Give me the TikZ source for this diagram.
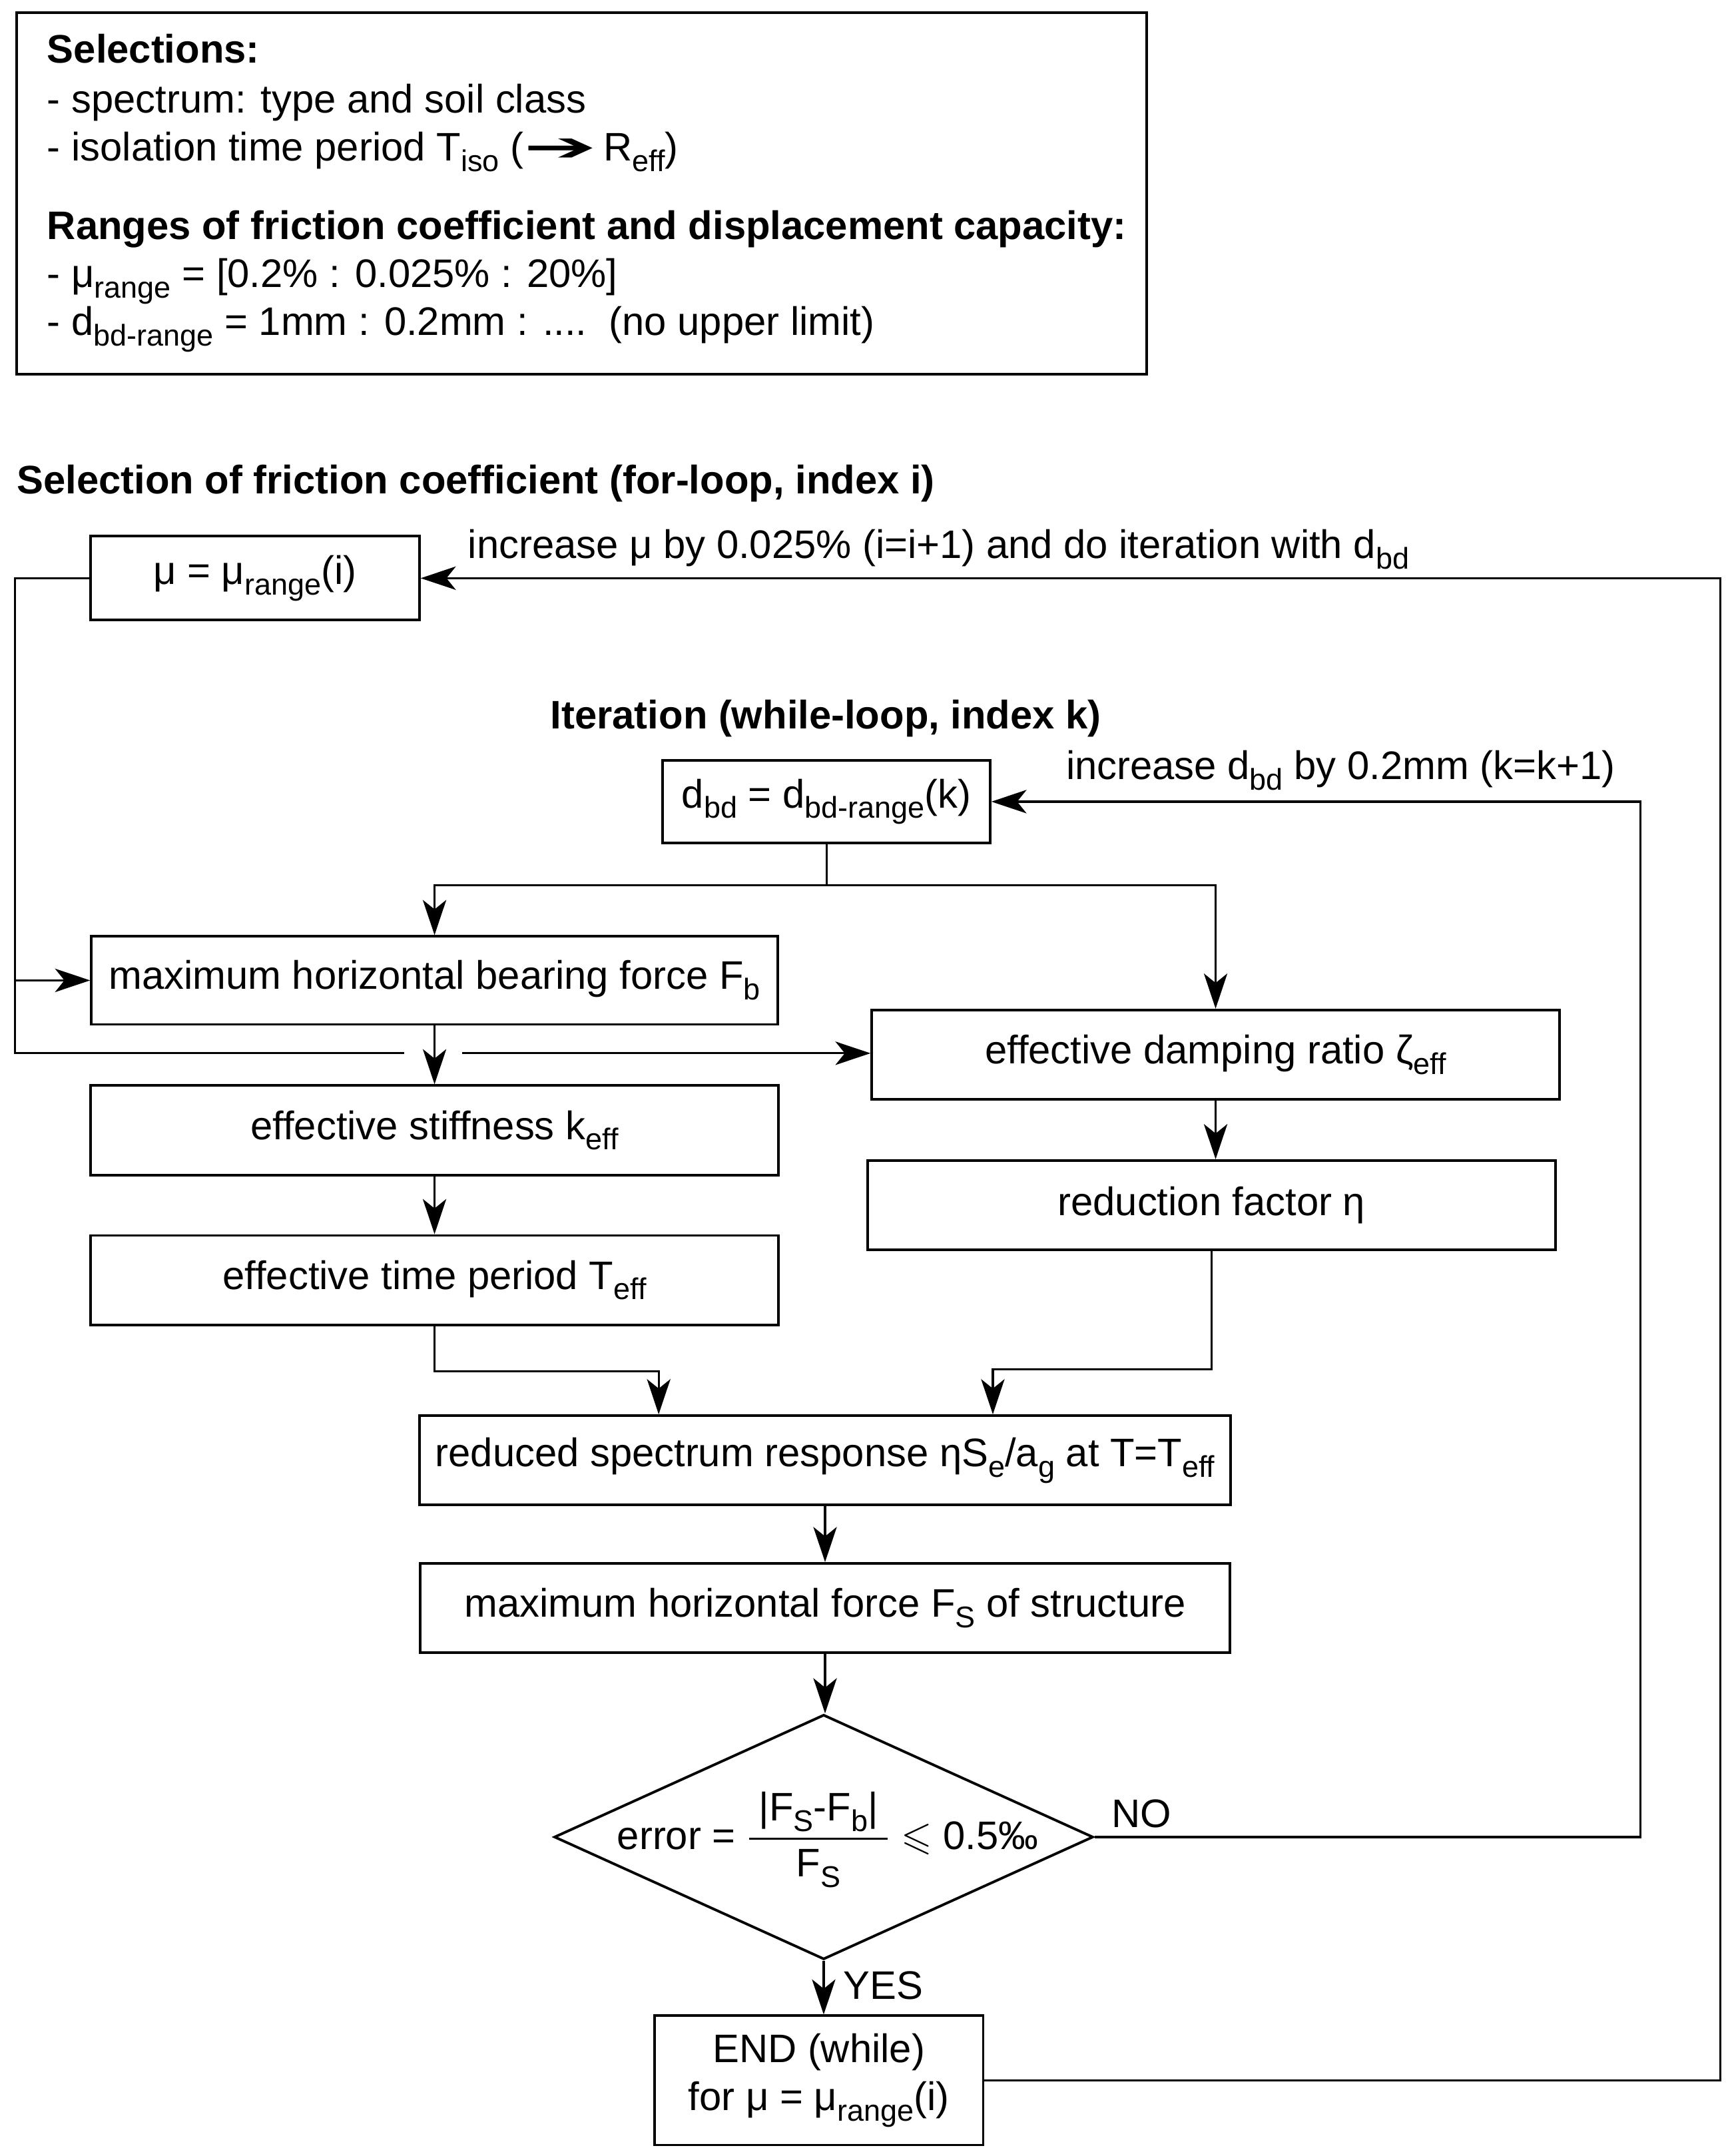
\documentclass[tikz,border=0pt]{standalone}
\usepackage{amsmath,amssymb}
\usepackage{graphicx}
\usepackage{fontspec}
\setmainfont{Liberation Sans}
\newfontfamily\symfont{DejaVu Sans}
\usepackage{tikz}
\usetikzlibrary{arrows.meta,shapes.geometric,calc}

\newcommand{\pxl}{0.20644mm}
\newcommand{\txtsize}{\fontsize{17}{20.5}\selectfont}
\newcommand{\sbs}[1]{\raisebox{-4.5pt}{\fontsize{12.8}{12.8}\selectfont #1}}

\begin{document}
\begin{tikzpicture}[
  x=\pxl, y=-\pxl,
  box/.style={rectangle,draw,line width=1.1pt,minimum width=500*\pxl,
              minimum height=65*\pxl,inner sep=0pt,align=center,font=\txtsize},
  cond/.style={diamond,draw,line width=1.1pt,minimum width=392*\pxl,
               minimum height=178*\pxl,inner sep=0pt},
  txt/.style={anchor=base west,inner sep=0pt,font=\txtsize},
  head/.style={txt,font=\txtsize\bfseries},
  line/.style={line width=0.9pt},
  arr/.style={line,-{Stealth[length=15pt,width=10pt,inset=4pt]}},
]
  \useasboundingbox (0,0) rectangle (1258,1568);

  % Selections and ranges
  \draw[line width=1.1pt] (12,9) rectangle (834,272);
  \node[head] (sel)  at (34,46)  {Selections:};
  \node[txt]  (selA) at (34,82)  {- spectrum: type and soil class};
  \node[txt]  (selB) at (34,117) {- isolation time period T\sbs{iso} (\scalebox{2.2}[1]{\symfont ➔}\,R\sbs{eff})};
  \node[head] (rng)  at (34,174) {Ranges of friction coefficient and displacement capacity:};
  \node[txt]  (rngA) at (34,209) {- μ\sbs{range} = [0.2\% : 0.025\% : 20\%]};
  \node[txt]  (rngB) at (34,244) {- d\sbs{bd-range} = 1mm : 0.2mm : ....~~(no upper limit)};

  % For-loop
  \node[head] (forhd) at (12,359) {Selection of friction coefficient (for-loop, index i)};
  \node[box,minimum width=239*\pxl,minimum height=61*\pxl] (mu) at (185.5,420.5) {μ = μ\sbs{range}(i)};
  \node[txt] (incmu) at (340,406) {increase μ by 0.025\% (i=i+1) and do iteration with d\sbs{bd}};

  % While-loop
  \node[head] (whilehd) at (400,530) {Iteration (while-loop, index k)};
  \node[box,minimum width=238*\pxl,minimum height=60*\pxl] (dbd) at (601,583) {d\sbs{bd} = d\sbs{bd-range}(k)};
  \node[txt] (incd) at (775,567) {increase d\sbs{bd} by 0.2mm (k=k+1)};

  % Calculation steps
  \node[box,minimum width=499*\pxl,minimum height=64*\pxl] (Fb) at (316,713) {maximum horizontal bearing force F\sbs{b}};
  \node[box] (keff) at (316,822) {effective stiffness k\sbs{eff}};
  \node[box] (Teff) at (316,931) {effective time period T\sbs{eff}};
  \node[box] (zeta) at (884,767) {effective damping ratio ζ\sbs{eff}};
  \node[box] (eta)  at (881,876.5) {reduction factor η};
  \node[box,minimum width=590*\pxl] (resp) at (600,1062) {reduced spectrum response ηS\sbs{e}/a\sbs{g} at T=T\sbs{eff}};
  \node[box,minimum width=589*\pxl] (FS) at (600,1169.5) {maximum horizontal force F\sbs{S} of structure};

  % Convergence check
  \node[cond] (chk) at (599,1336) {};
  \node[font=\txtsize,inner sep=0pt] (chktxt) at (602,1338)
    {error = $\genfrac{}{}{0.9pt}{0}{\mbox{\hspace{4pt}|F\sbs{S}-F\sbs{b}|\hspace{4pt}}}{\mbox{F\sbs{S}}}$ $\leqslant$ 0.5‰};
  \node[txt] (no)  at (808,1329) {NO};
  \node[txt] (yes) at (613,1454) {YES};
  \node[box,minimum width=239*\pxl,minimum height=94*\pxl] (END) at (595.5,1513) {END (while)\\for μ = μ\sbs{range}(i)};

  % Connectors
  \coordinate (gapL) at (294,766);
  \coordinate (gapR) at (336,766);
  \draw[arr] (END.east) -- ++(535,0) |- (mu.east);
  \draw[arr] (mu.west) -- ++(-54,0) coordinate (lft) |- (Fb.west);
  \draw[line] (lft |- Fb.west) |- (gapL);
  \draw[arr] (gapR) -- (gapR -| zeta.west);
  \draw[line] (dbd.south) -- ++(0,30) coordinate (split);
  \draw[arr] (split) -| (Fb.north);
  \draw[arr] (split) -| (zeta.north);
  \draw[arr] (Fb.south) -- (keff.north);
  \draw[arr] (keff.south) -- (Teff.north);
  \draw[arr] (zeta.south) -- (zeta.south |- eta.north);
  \draw[arr] (Teff.south) -- ++(0,33) -| ($(resp.north)+(-121,0)$);
  \draw[arr] (eta.south) -- ++(0,86) -| ($(resp.north)+(122,0)$);
  \draw[arr] (resp.south) -- (FS.north);
  \draw[arr] (FS.south) -- (FS.south |- chk.north);
  \draw[arr] (chk.east) -- ++(397,0) |- (dbd.east);
  \draw[arr] (chk.south) -- (chk.south |- END.north);
\end{tikzpicture}
\end{document}
